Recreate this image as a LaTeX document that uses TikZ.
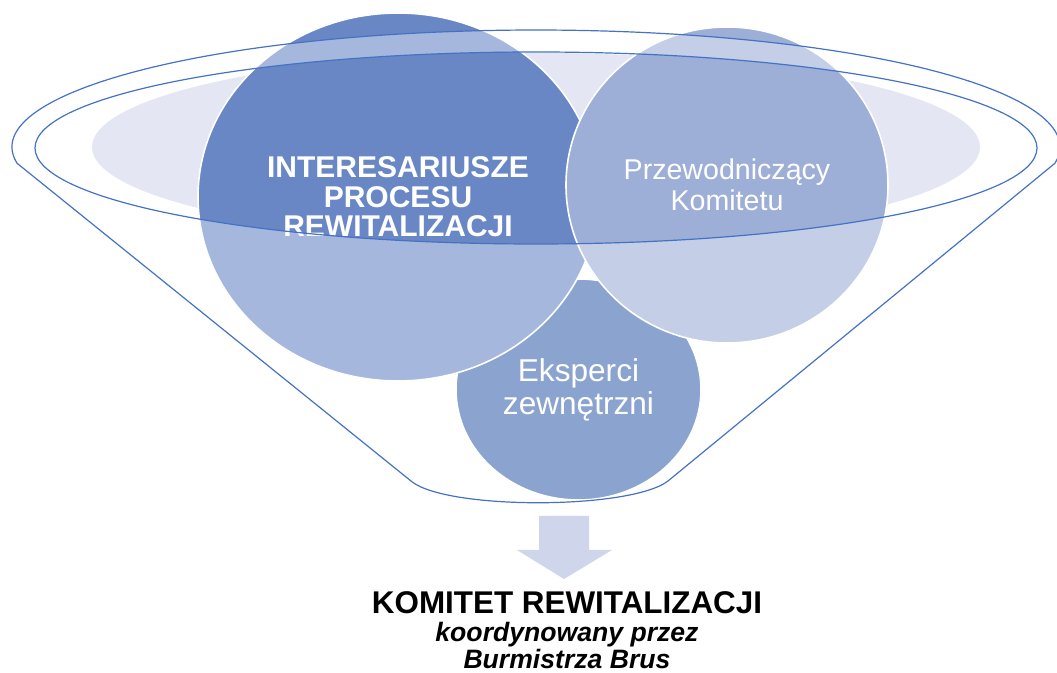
\documentclass[tikz,border=0pt]{standalone}
\usepackage{fontspec}
\setmainfont{Liberation Sans}
\usetikzlibrary{shapes.geometric}
\definecolor{funnelline}{HTML}{4472C4}
\definecolor{stakefill}{HTML}{6A87C5}
\definecolor{chairfill}{HTML}{9DAED7}
\definecolor{expertfill}{HTML}{3F68B0}
\definecolor{holefill}{HTML}{E4E7F3}
\definecolor{arrowfill}{HTML}{CFD6EC}
\begin{document}
\begin{tikzpicture}[x=0.5pt, y=-0.5pt, line join=round, line cap=round,
	blob/.style={ellipse, draw=white, line width=0.8pt, inner sep=0pt, text=white, align=center},
	funnel/.style={draw=funnelline, line width=0.6pt, fill=white, fill opacity=0.4, even odd rule}]
	\useasboundingbox (0,0) rectangle (1057,673);
	\fill[holefill] (536,147) ellipse [x radius=444, y radius=94];
	\node[blob, fill=expertfill, minimum width=122.5pt, minimum height=110.5pt, font=\fontsize{15.8}{16.5}\selectfont] (eksperci) at (578.5,389.5) {Eksperci\\zewnętrzni};
	\node[blob, fill=stakefill, minimum width=200pt, minimum height=184pt, font=\fontsize{15}{14.8}\selectfont\bfseries] (interesariusze) at (398,197) {INTERESARIUSZE\\PROCESU\\REWITALIZACJI};
	\node[blob, fill=chairfill, minimum width=161pt, minimum height=158pt, font=\fontsize{14.3}{15.5}\selectfont] (przewodniczacy) at (727,185) {Przewodniczący\\Komitetu};
	% lejek
	\path[funnel] (17.1,163.3) arc [start angle=172, end angle=368, x radius=524, y radius=117]
		-- (668,481) .. controls (630,510) and (445,510) .. (411,481) -- cycle
		(536,148) ellipse [x radius=501, y radius=96];
	\fill[arrowfill] (539,516) -- (589,516) -- (589,550) -- (612,550) -- (564,579) -- (517,550) -- (539,550) -- cycle;
	\node[anchor=base, font=\fontsize{15.7}{18}\selectfont\bfseries] (komitet) at (567,614) {KOMITET REWITALIZACJI};
	\node[anchor=base, font=\fontsize{13.3}{15}\selectfont\bfseries\itshape] (koordynacja) at (567,642) {koordynowany przez};
	\node[anchor=base, font=\fontsize{13.3}{15}\selectfont\bfseries\itshape] (burmistrz) at (567,669) {Burmistrza Brus};
\end{tikzpicture}
\end{document}
